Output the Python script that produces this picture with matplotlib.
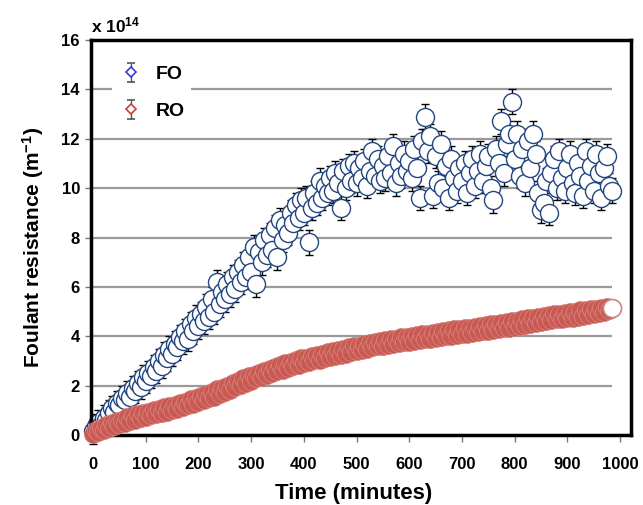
import numpy as np
import matplotlib
matplotlib.use("Agg")
import matplotlib.pyplot as plt

plt.rcParams['font.family'] = ['Liberation Sans', 'DejaVu Sans']
plt.rcParams['mathtext.fontset'] = 'custom'
plt.rcParams['mathtext.rm'] = 'Liberation Sans:bold'
plt.rcParams['mathtext.bf'] = 'Liberation Sans:bold'
plt.rcParams['mathtext.it'] = 'Liberation Sans:bold'

# sampling times (minutes)
time_min = np.arange(0, 990, 5)

# Foulant resistance, units of 1e14 m^-1
fo_values = [
    0.15, 0.35, 0.5, 0.4, 0.7, 0.6, 0.9, 1.1, 0.95, 1.3,
    1.2, 1.5, 1.4, 1.7, 1.55, 1.9, 1.8, 2.1, 1.95, 2.35,
    2.2, 2.5, 2.4, 2.75, 2.6, 3.0, 2.8, 3.25, 3.1, 3.5,
    3.3, 3.7, 3.55, 3.95, 3.8, 4.2, 3.9, 4.5, 4.2, 4.75,
    4.4, 4.9, 4.6, 5.2, 4.8, 5.5, 5.0, 6.2, 5.3, 5.8,
    5.5, 6.1, 5.7, 6.4, 5.9, 6.6, 6.2, 6.9, 6.4, 7.2,
    6.6, 7.6, 6.1, 7.4, 7.0, 7.9, 7.3, 8.1, 7.5, 8.4,
    7.2, 8.7, 7.9, 8.5, 8.2, 9.0, 8.6, 9.3, 8.8, 9.5,
    9.0, 9.6, 7.8, 9.2, 9.8, 9.4, 10.3, 9.6, 10.1, 9.8,
    10.4, 9.9, 10.6, 10.2, 9.2, 10.7, 10.0, 10.9, 10.3, 11.0,
    10.2, 10.8, 10.4, 11.1, 10.1, 10.7, 11.5, 10.5, 11.2, 10.3,
    10.9, 10.4, 11.3, 10.6, 11.7, 10.2, 11.0, 10.5, 11.4, 10.7,
    11.1, 10.4, 11.6, 10.8, 9.6, 11.9, 12.9, 11.5, 12.1, 9.7,
    11.3, 10.2, 11.8, 10.0, 10.9, 9.6, 11.2, 10.4, 9.9, 10.8,
    10.3, 11.0, 9.8, 10.6, 11.2, 10.1, 10.7, 11.4, 10.3, 10.9,
    11.3, 10.0, 9.5, 11.6, 11.0, 12.7, 10.6, 11.8, 12.2, 13.5,
    11.2, 12.2, 10.5, 11.6, 10.2, 11.9, 10.8, 12.2, 11.4, 9.8,
    9.1, 9.4, 10.3, 9.0, 10.6, 11.2, 10.0, 11.5, 10.4, 9.9,
    10.8, 11.4, 10.2, 9.8, 11.0, 10.5, 9.7, 11.5, 10.3, 10.9,
    9.9, 11.4, 10.6, 9.6, 10.8, 11.3, 10.1, 9.9,
]
ro_values = [
    0.05, 0.2, 0.12, 0.3, 0.2, 0.42, 0.3, 0.5, 0.38, 0.58,
    0.45, 0.62, 0.5, 0.72, 0.58, 0.8, 0.62, 0.85, 0.7, 0.9,
    0.72, 0.95, 0.8, 1.0, 0.84, 1.05, 0.9, 1.12, 0.95, 1.18,
    1.0, 1.2, 1.05, 1.3, 1.12, 1.35, 1.2, 1.45, 1.26, 1.5,
    1.32, 1.58, 1.4, 1.65, 1.48, 1.75, 1.55, 1.85, 1.65, 1.92,
    1.75, 2.0, 1.82, 2.1, 1.95, 2.2, 2.02, 2.3, 2.12, 2.38,
    2.2, 2.45, 2.3, 2.5, 2.35, 2.6, 2.42, 2.68, 2.5, 2.75,
    2.58, 2.82, 2.65, 2.9, 2.72, 2.95, 2.8, 3.02, 2.85, 3.1,
    2.92, 3.12, 2.95, 3.2, 3.02, 3.25, 3.05, 3.3, 3.12, 3.35,
    3.15, 3.4, 3.2, 3.45, 3.25, 3.5, 3.3, 3.55, 3.35, 3.6,
    3.4, 3.62, 3.45, 3.68, 3.5, 3.72, 3.55, 3.75, 3.6, 3.8,
    3.62, 3.85, 3.65, 3.88, 3.7, 3.9, 3.72, 3.95, 3.75, 3.98,
    3.78, 4.0, 3.8, 4.05, 3.85, 4.08, 3.88, 4.1, 3.9, 4.15,
    3.92, 4.18, 3.95, 4.2, 4.0, 4.25, 4.02, 4.28, 4.05, 4.3,
    4.08, 4.32, 4.1, 4.35, 4.15, 4.38, 4.18, 4.42, 4.2, 4.45,
    4.22, 4.48, 4.25, 4.5, 4.3, 4.55, 4.32, 4.58, 4.35, 4.6,
    4.38, 4.62, 4.42, 4.68, 4.45, 4.72, 4.5, 4.75, 4.55, 4.8,
    4.58, 4.82, 4.6, 4.85, 4.65, 4.9, 4.68, 4.92, 4.7, 4.95,
    4.72, 4.98, 4.75, 5.0, 4.8, 5.05, 4.82, 5.08, 4.85, 5.1,
    4.9, 5.12, 4.95, 5.15, 5.0, 5.18, 5.05, 5.15,
]
fo_err = 0.5
ro_err = 0.15

x_ticks = [0, 100, 200, 300, 400, 500, 600, 700, 800, 900, 1000]
y_ticks = [0, 2, 4, 6, 8, 10, 12, 14, 16]
grid_levels = [2, 4, 6, 8, 10, 12, 14]

fig = plt.figure(figsize=(6.43, 5.05), dpi=100)
ax = fig.add_axes([91/643, 1 - 435/505, 540/643, 395/505])

ax.set_xlim(-4, 1021)
ax.set_ylim(0, 16)

# gridlines (stop short of right spine)
ax.hlines(grid_levels, -4, 985, colors='#9a9a9a', lw=1.6, zorder=0)

fo_c = '#23457e'
ro_face = '#c95a53'
ro_edge = '#d98780'
ms = 13

ax.errorbar(time_min, fo_values, yerr=fo_err, fmt='o', ms=ms, mfc='white',
            mec=fo_c, mew=1.0, ecolor='black', elinewidth=1.0, capsize=3,
            capthick=1.0, zorder=2, clip_on=False)
ax.errorbar(time_min, ro_values, yerr=ro_err, fmt='o', ms=ms, mfc=ro_face,
            mec=ro_edge, mew=0.5, ecolor=ro_face, elinewidth=1.0, capsize=3,
            zorder=3, clip_on=False)
ax.plot(time_min[-1:], ro_values[-1:], 'o', ms=ms, mfc='white', mec='#c48a86',
        mew=1.2, zorder=4, clip_on=False)

# legend proxies
h_fo = ax.errorbar([np.nan], [np.nan], yerr=[0.5], fmt='D', ms=5, mfc='white',
                   mec='#3b3bd6', mew=1.2, ecolor='#555555', elinewidth=1.0,
                   capsize=3)
h_ro = ax.errorbar([np.nan], [np.nan], yerr=[0.5], fmt='D', ms=5, mfc='white',
                   mec='#d23a3a', mew=1.2, ecolor='#555555', elinewidth=1.0,
                   capsize=3)
leg = ax.legend([h_fo, h_ro], ['FO', 'RO'], loc='upper left',
                bbox_to_anchor=(0.02, 0.975), frameon=True, fancybox=False,
                framealpha=1, facecolor='white', edgecolor='none',
                prop={'weight': 'bold', 'size': 14}, handlelength=1.4,
                handletextpad=0.6, labelspacing=1.0, borderpad=0.3)
leg.set_zorder(5)

for s in ax.spines.values():
    s.set_linewidth(2.5)
    s.set_color('black')

ax.set_xticks(x_ticks)
ax.set_yticks(y_ticks)
ax.set_xticklabels([str(v) for v in x_ticks], fontsize=12, fontweight='bold')
ax.set_yticklabels([str(v) for v in y_ticks], fontsize=12, fontweight='bold')
ax.tick_params(axis='x', direction='out', length=5, width=1, color='#777777', pad=11)
ax.tick_params(axis='y', direction='out', length=4, width=1, color='#777777', pad=4)

ax.set_xlabel('Time (minutes)', fontsize=16, fontweight='bold')
ax.xaxis.set_label_coords((354 - 91) / 540, -(493 - 435) / 395)
ax.set_ylabel('Foulant resistance (m$^{-1}$)', fontsize=15, fontweight='bold')
ax.yaxis.set_label_coords((33 - 91) / 540, (435 - 247) / 395)
ax.xaxis.label.set_va('center')
ax.yaxis.label.set_va('center')
ax.text(0.0, 1.012, r'x 10$^{14}$', transform=ax.transAxes, fontsize=12.5,
        fontweight='bold', ha='left', va='bottom')

fig.savefig('out.png', dpi=100)
